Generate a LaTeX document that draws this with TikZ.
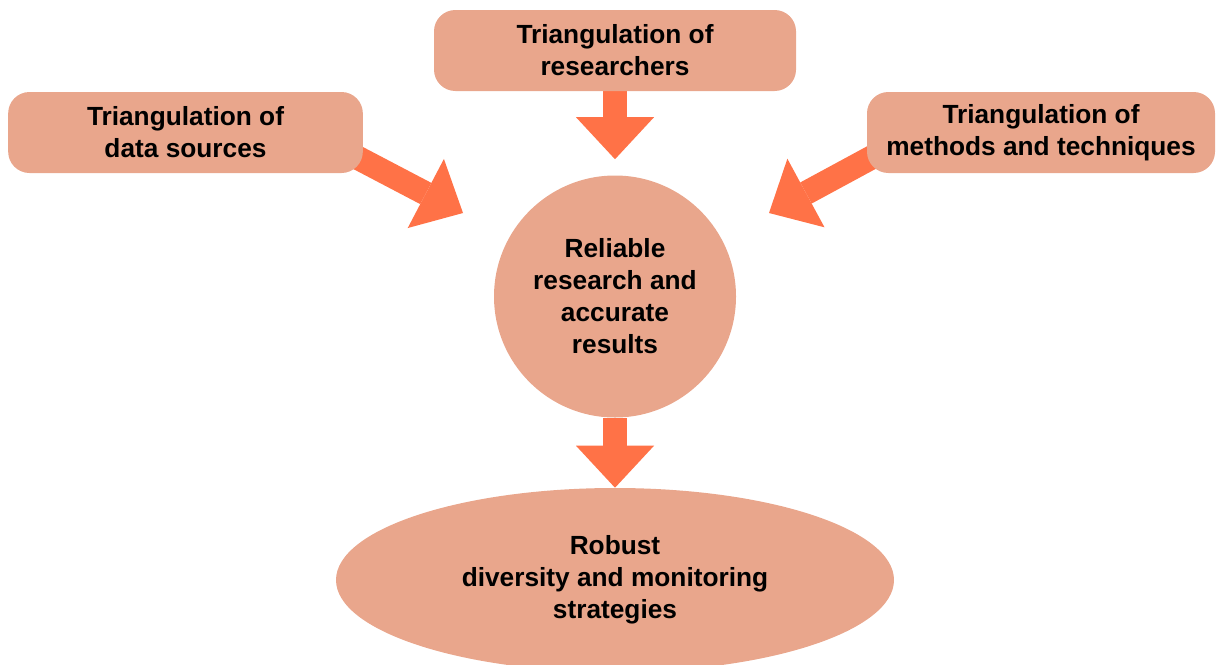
\documentclass[tikz,border=0pt]{standalone}
\usepackage{fontspec}
\setmainfont{Liberation Sans}
\usepackage{tikz}
\usetikzlibrary{calc, shapes, arrows.meta, backgrounds}

\definecolor{salmon}{RGB}{233,166,140}
\definecolor{tangerine}{RGB}{255,114,71}

\begin{document}
\begin{tikzpicture}[x=0.75pt,y=-0.75pt]
\tikzstyle{box}=[rectangle,rounded corners=16pt,fill=salmon,minimum height=60.75pt,inner sep=0pt,align=center,font=\fontsize{19.7}{24}\selectfont\bfseries]
\tikzstyle{blob}=[fill=salmon,inner sep=0pt,align=center,font=\fontsize{19.7}{24}\selectfont\bfseries]
\tikzstyle{fat}=[draw=tangerine,line width=18pt,-{Triangle[length=31.5pt,width=58.5pt,line width=0pt]}]
\useasboundingbox (0,0) rectangle (1216,664);
\node[box,minimum width=271.5pt] (T_res) at (615,50.5) {Triangulation of\\researchers};
\node[box,minimum width=266pt] (T_data) at (185.5,132.5) {Triangulation of\\data sources};
\node[box,minimum width=261pt] (T_meth) at (1041,132.5) {Triangulation of\\methods and techniques};
\node[blob,circle,minimum size=181.5pt] (C_res) at (615,296.5) {Reliable\\research and\\accurate\\results};
\node[blob,ellipse,minimum width=418.5pt,minimum height=138pt] (E_rob) at (615,580) {Robust\\diversity and monitoring\\strategies};
\coordinate (tip_L) at (463,213);
\coordinate (tip_R) at (769,213);
\begin{scope}[on background layer]
\draw[fat] ($(T_data.-9.4)!-0.4!(tip_L)$) -- (tip_L);
\draw[fat] ($(T_meth.189.6)!-0.4!(tip_R)$) -- (tip_R);
\draw[fat,shorten >=12pt] (T_res) -- (C_res);
\draw[fat] (C_res) -- (E_rob);
\end{scope}
\end{tikzpicture}
\end{document}
